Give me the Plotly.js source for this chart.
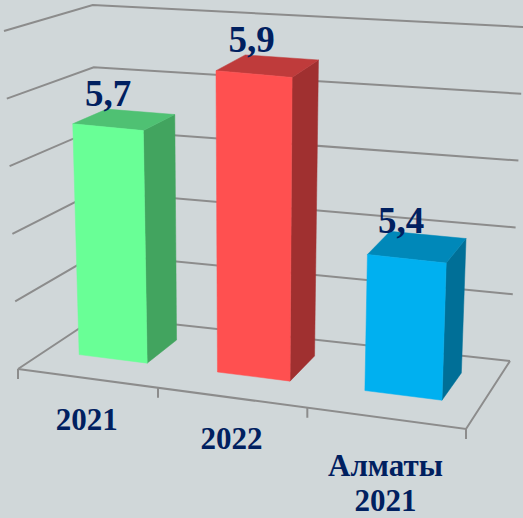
<!DOCTYPE html>
<html><head><meta charset="utf-8">
<script src="https://cdn.plot.ly/plotly-3.0.1.min.js"></script>
<style>html,body{margin:0;padding:0;background:#D0D7D9}</style></head>
<body><div id="chart" style="width:523px;height:518px"></div>
<script>
const categories = [["2021"], ["2022"], ["Алматы", "2021"]];
const values = [5.7, 5.9, 5.4];
const valueLabels = ["5,7", "5,9", "5,4"];
const gridLevels = [5.0, 5.2, 5.4, 5.6, 5.8, 6.0];
const frontColors = ["#69FF96", "#FF5050", "#00B0F0"];
const sideColors = ["#42A45F", "#A03030", "#006F97"];
const topColors = ["#4FC173", "#BF3B3B", "#0088B9"];

const axisMin = 5, axisMax = 6;
const floorQuad = [[18,369],[466,429],[510,361],[98,316]];
const topQuad = [[4,31],[478,79],[524,27],[92.7,5]];
const barInset = 0.25, depthNear = 0.35, depthFar = 0.76, perspectiveWarp = 0.094;

function onQuad(q,U,v){
  const fx=q[0][0]+(q[1][0]-q[0][0])*U, fy=q[0][1]+(q[1][1]-q[0][1])*U;
  const bx=q[3][0]+(q[2][0]-q[3][0])*U, by=q[3][1]+(q[2][1]-q[3][1])*U;
  return [fx+(bx-fx)*v, fy+(by-fy)*v];
}
function project(u,v,val){
  const U=u-perspectiveWarp*u*(1-u), t=(val-axisMin)/(axisMax-axisMin);
  const A=onQuad(floorQuad,U,v), B=onQuad(topQuad,U,v);
  return [A[0]+(B[0]-A[0])*t, A[1]+(B[1]-A[1])*t];
}
function poly(points,color){
  const P=[...points,points[0]];
  return {x:P.map(p=>p[0]),y:P.map(p=>p[1]),mode:'lines',fill:'toself',fillcolor:color,
    line:{width:0.5,color:color},hoverinfo:'skip',showlegend:false,type:'scatter'};
}
function line(points,width){
  return {x:points.map(p=>p[0]),y:points.map(p=>p[1]),mode:'lines',
    line:{width:width,color:'#8C8C8C'},hoverinfo:'skip',showlegend:false,type:'scatter'};
}
const traces=[];
gridLevels.forEach(l=>traces.push(line([project(0,0,l),project(0,1,l),project(1,1,l)],2)));
traces.push(line([project(0,0,axisMin),project(1,0,axisMin),project(1,1,axisMin)],2));
const n=categories.length;
for(let i=0;i<=n;i++){
  const p=project(i/n,0,axisMin);
  traces.push(line([p,[p[0],p[1]+10]],2));
}
const f=project;
values.forEach((val,i)=>{
  const u0=(i+barInset)/n,u1=(i+1-barInset)/n;
  traces.push(poly([f(u1,depthNear,axisMin),f(u1,depthFar,axisMin),f(u1,depthFar,val),f(u1,depthNear,val)],sideColors[i]));
  traces.push(poly([f(u0,depthNear,val),f(u1,depthNear,val),f(u1,depthFar,val),f(u0,depthFar,val)],topColors[i]));
  traces.push(poly([f(u0,depthNear,axisMin),f(u1,depthNear,axisMin),f(u1,depthNear,val),f(u0,depthNear,val)],frontColors[i]));
});
const serif='"Liberation Serif","Times New Roman",serif';
const labelPts=values.map((val,i)=>{const p=f((i+.5)/n,(depthNear+depthFar)/2,val);return [p[0]-16,p[1]-23];});
traces.push({x:labelPts.map(p=>p[0]),y:labelPts.map(p=>p[1]),text:valueLabels,mode:'text',type:'scatter',
  textposition:'middle center',textfont:{family:serif,size:37,color:'#002060',weight:700},hoverinfo:'skip',showlegend:false});
const catX=[],catY=[],catT=[];
categories.forEach((lines,i)=>{
  const p=f((i+.5)/n,0,axisMin);
  lines.forEach((t,j)=>{catX.push(p[0]);catY.push(p[1]+44+6*(lines.length-1)+35*j);catT.push(t);});
});
traces.push({x:catX,y:catY,text:catT,mode:'text',type:'scatter',
  textposition:'middle center',textfont:{family:serif,size:31,color:'#002060',weight:700},hoverinfo:'skip',showlegend:false});
Plotly.newPlot('chart',traces,{
  width:523,height:518,margin:{l:0,r:0,t:0,b:0},paper_bgcolor:'#D0D7D9',plot_bgcolor:'#D0D7D9',showlegend:false,
  xaxis:{range:[0,523],visible:false,fixedrange:true},
  yaxis:{range:[518,0],visible:false,fixedrange:true}
},{displayModeBar:false,staticPlot:true});
</script></body></html>
